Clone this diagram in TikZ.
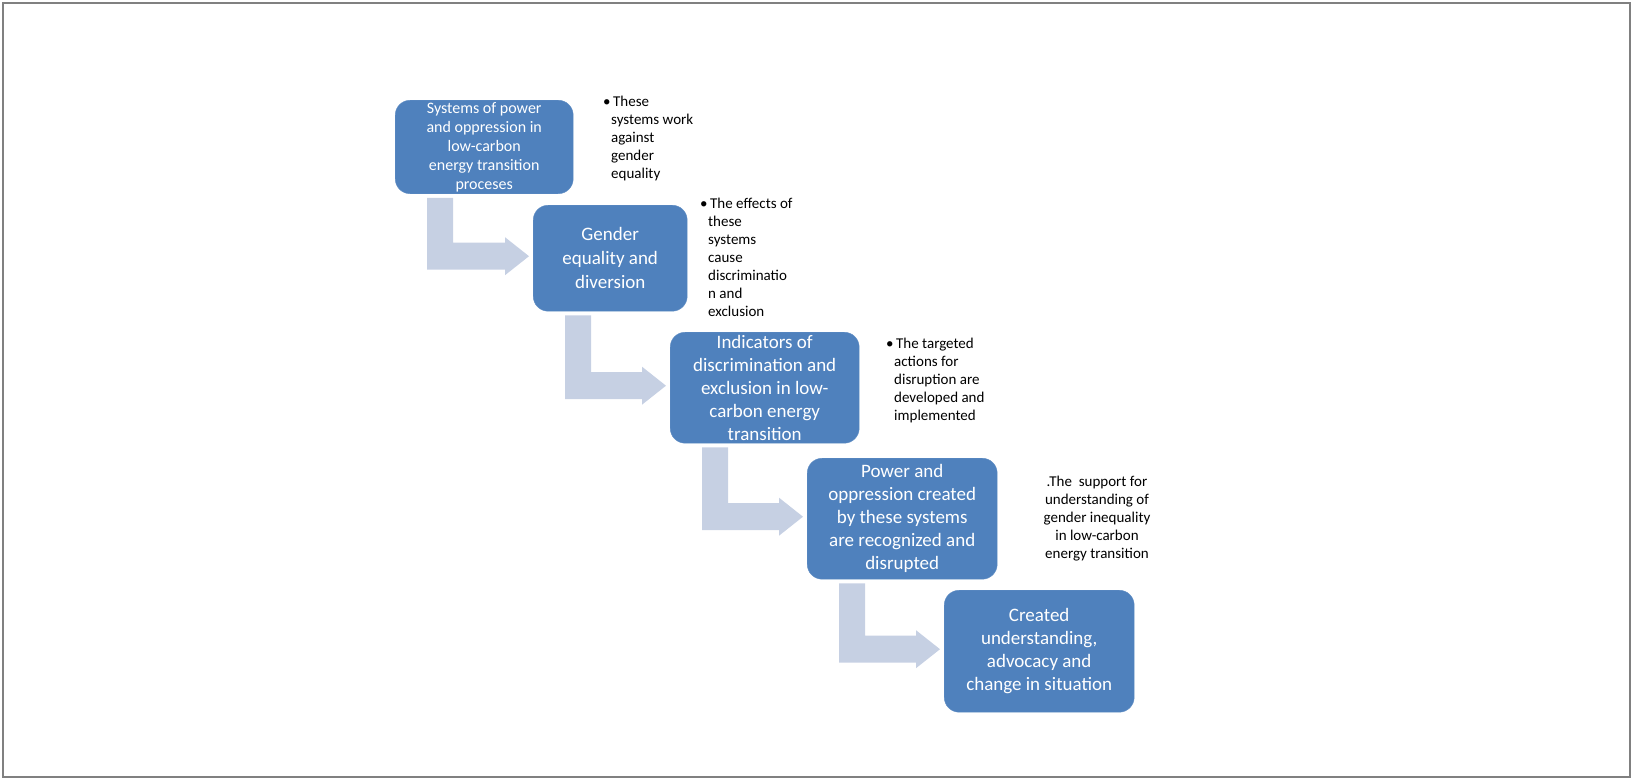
\documentclass[tikz,border=0pt]{standalone}
\usepackage{fontspec}
\setmainfont{Carlito}
\usetikzlibrary{calc}
\definecolor{boxc}{HTML}{4F81BD}
\definecolor{arrc}{HTML}{C6D0E3}
\begin{document}
\begin{tikzpicture}[x=1pt,y=-1pt,
  box/.style={draw=boxc!90!white,fill=boxc,rounded corners=15pt,anchor=north west,text=white,align=center,inner sep=2pt,font=\fontsize{19}{23}\selectfont},
  note/.style={anchor=north west,align=left,inner sep=0pt,font=\fontsize{15}{18}\selectfont},
  arr/.style={fill=arrc}]
\useasboundingbox (0,0) rectangle (1633,780);
\draw[gray,line width=1.5pt] (3,3) rectangle (1630,777);
\node[box,minimum width=178pt,minimum height=92pt,font=\fontsize{16}{19}\selectfont] (b1) at (395,100) {Systems of power\\and oppression in\\low-carbon\\energy transition\\proceses};
\node[box,minimum width=154pt,minimum height=106pt,font=\fontsize{19}{24}\selectfont] (b2) at (533,205) {Gender\\equality and\\diversion};
\node[box,minimum width=189pt,minimum height=111pt] (b3) at (670,332) {Indicators of\\discrimination and\\exclusion in low-\\carbon energy\\transition};
\node[box,minimum width=190pt,minimum height=121pt] (b4) at (807,458) {Power and\\oppression created\\by these systems\\are recognized and\\disrupted};
\node[box,minimum width=190pt,minimum height=122pt] (b5) at (944,590) {Created\\understanding,\\advocacy and\\change in situation};
\node[note] (n1) at (603,96) {\textbullet\,These\\\hspace{8pt}systems work\\\hspace{8pt}against\\\hspace{8pt}gender\\\hspace{8pt}equality};
\node[note] (n2) at (700,198) {\textbullet\,The effects of\\\hspace{8pt}these\\\hspace{8pt}systems\\\hspace{8pt}cause\\\hspace{8pt}discriminatio\\\hspace{8pt}n and\\\hspace{8pt}exclusion};
\node[note] (n3) at (886,338) {\textbullet\,The targeted\\\hspace{8pt}actions for\\\hspace{8pt}disruption are\\\hspace{8pt}developed and\\\hspace{8pt}implemented};
\node[note,anchor=north,align=center] (n4) at (1097,476) {.The\ \ support for\\understanding of\\gender inequality\\in low-carbon\\energy transition};
\foreach \a/\b in {b1/b2,b2/b3,b3/b4,b4/b5}{
\fill[arr] let \p1=(\a.south west), \p2=(\b.west) in
 (\x1+32pt,\y1-4pt) -- (\x1+58pt,\y1-4pt) -- (\x1+58pt,\y2+15.5pt) -- (\x2-28pt,\y2+15.5pt)
 -- (\x2-28pt,\y2+21pt) -- (\x2-4pt,\y2+2pt) -- (\x2-28pt,\y2-17pt) -- (\x2-28pt,\y2-11.5pt)
 -- (\x1+32pt,\y2-11.5pt) -- cycle;
}
\end{tikzpicture}
\end{document}
